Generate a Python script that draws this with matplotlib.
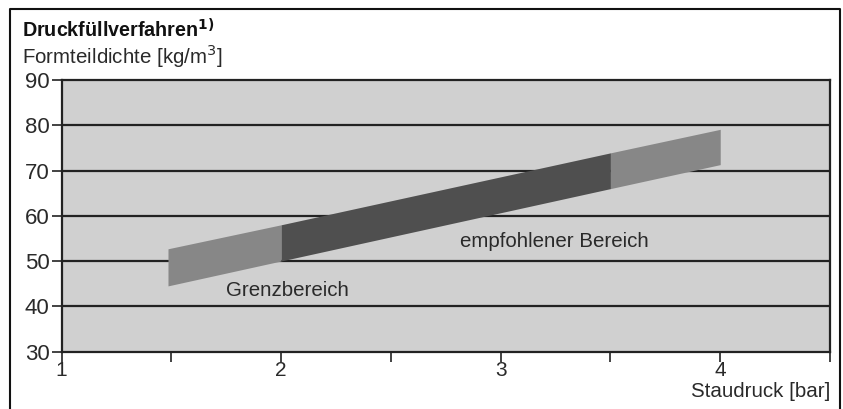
import matplotlib
matplotlib.use("Agg")
import matplotlib.pyplot as plt
from matplotlib.lines import Line2D

plt.rcParams['font.family'] = ['Liberation Sans', 'DejaVu Sans']

# Data
band_x = [1.485, 2.0, 3.5, 4.0]
band_upper = [52.7, 58.0, 73.9, 79.1]
band_lower = [44.5, 50.0, 66.0, 71.3]
segment_colors = ['#878787', '#4f4f4f', '#878787']
x_ticks = [1, 1.5, 2, 2.5, 3, 3.5, 4, 4.5]
x_labels = ['1', '', '2', '', '3', '', '4', '']
y_ticks = [30, 40, 50, 60, 70, 80, 90]
title = 'Druckfüllverfahren$^{\\mathbf{1)}}$'
y_title = 'Formteildichte [kg/m$^3$]'
x_title = 'Staudruck [bar]'
label_grenz = 'Grenzbereich'
label_empf = 'empfohlener Bereich'

W, H = 843, 409
fs = 14.8
tc = '#2a2a2a'
fig = plt.figure(figsize=(W / 100, H / 100), dpi=100)
ax = fig.add_axes([61.5 / W, 1 - 351.5 / H, (830 - 61.5) / W, (351.5 - 80) / H])
ax.set_facecolor('#d0d0d0')
ax.set_xlim(1, 4.5)
ax.set_ylim(30, 90)

for yv in y_ticks[1:-1]:
    ax.axhline(yv, color='#222222', lw=1.6, zorder=1)

for i in range(len(band_x) - 1):
    xs = [band_x[i], band_x[i + 1]]
    ax.fill_between(xs, [band_lower[i], band_lower[i + 1]],
                    [band_upper[i], band_upper[i + 1]],
                    color=segment_colors[i], lw=0, zorder=2)

for s in ax.spines.values():
    s.set_color('#222222')
    s.set_linewidth(1.6)

ax.set_xticks(x_ticks)
ax.set_xticklabels(x_labels)
ax.set_yticks(y_ticks)
ax.tick_params(axis='both', direction='out', length=7, width=1.2,
               color='#222222', labelcolor=tc)
ax.tick_params(axis='y', labelsize=16, pad=1.5)
ax.tick_params(axis='x', labelsize=15, pad=0)

ax.text(1.75, 43.4, label_grenz, fontsize=fs, color=tc, va='center', ha='left', zorder=3)
ax.text(2.815, 54.4, label_empf, fontsize=fs, color=tc, va='center', ha='left', zorder=3)

fig.text(22 / W, 1 - 38 / H, title, fontsize=14.2, fontweight='bold', color='#111111',
         ha='left', va='baseline')
fig.text(22 / W, 1 - 64 / H, y_title, fontsize=fs, color=tc, ha='left', va='baseline')
fig.text(830 / W, 1 - 397 / H, x_title, fontsize=fs, color=tc, ha='right', va='baseline')

# outer frame (top, left, right)
fig.add_artist(Line2D([10 / W, 10 / W, 840 / W, 840 / W], [0, 1 - 9 / H, 1 - 9 / H, 0],
                      transform=fig.transFigure, color='#111111', lw=1.5))

fig.savefig('out.png', dpi=100, facecolor='white')
